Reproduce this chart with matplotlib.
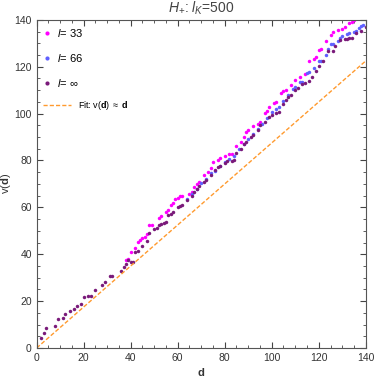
import matplotlib.pyplot as plt
import numpy as np
from matplotlib.ticker import MultipleLocator

plt.rcParams['font.family'] = ['Liberation Sans', 'DejaVu Sans']
plt.rcParams['mathtext.fontset'] = 'custom'
plt.rcParams['mathtext.rm'] = 'Liberation Sans'
plt.rcParams['mathtext.it'] = 'Liberation Sans:italic'
plt.rcParams['mathtext.bf'] = 'Liberation Sans:bold'

# l = infinity (purple)
d_inf = [2, 3, 4, 8, 9, 11, 12, 14, 16, 17, 19, 20, 22, 23, 25, 28, 29, 31, 32,
         36, 37, 38, 39, 40, 41, 42, 43, 45, 47, 48, 50, 51, 52, 53, 54, 55, 56,
         57, 58, 60, 61, 62, 64, 66, 67, 68, 69, 71, 72, 74, 76, 77, 78, 80, 81,
         83, 84, 85, 87, 88, 89, 91, 92, 94, 95, 97, 99, 100, 102, 103, 105, 106,
         107, 108, 110, 111, 113, 114, 116, 117, 119, 120, 122, 124, 126, 127,
         129, 131, 132, 133, 134, 136, 138, 140]
v_inf = [4.4, 6.4, 8.5, 9.3, 12.2, 12.7, 14.4, 15.8, 16.5, 18.1, 18.8, 21.9, 22.2,
         22.2, 24.8, 26.8, 28.3, 30.6, 30.6, 33.0, 34.4, 35.8, 37.6, 36.7, 36.7,
         41.1, 41.5, 43.7, 45.7, 49.0, 50.9, 51.2, 52.6, 53.0, 53.3, 53.6, 56.6,
         57.3, 58.0, 60.3, 60.6, 60.9, 63.0, 65.0, 66.5, 68.0, 69.0, 71.0, 71.7,
         74.0, 76.0, 77.1, 77.7, 79.1, 79.8, 79.9, 80.0, 83.0, 85.0, 87.0, 88.0,
         90.0, 91.0, 93.0, 95.2, 96.5, 98.7, 99.5, 100.4, 100.9, 104.0, 106.0,
         107.0, 108.0, 110.0, 111.0, 112.5, 113.0, 114.0, 115.5, 118.0, 120.2,
         122.4, 126.6, 126.6, 129.0, 131.6, 131.8, 131.9, 132.1, 132.3, 134.4,
         135.4, 137.0]

# l = 33 (magenta)
d_33 = [38, 39, 40, 42, 43, 44, 45, 46, 47, 48, 49, 52, 53, 55, 56, 57, 58, 59,
        60, 61, 62, 65, 66, 67, 68, 69, 71, 73, 74, 75, 77, 78, 80, 82, 83, 85,
        87, 88, 89, 90, 92, 94, 95, 97, 98, 99, 101, 102, 104, 105, 106, 108, 110,
        112, 114, 116, 118, 119, 120, 121, 123, 125, 126, 128, 130, 131, 133, 134,
        135]
v_33 = [37.6, 37.9, 41.1, 42.6, 45.4, 46.1, 46.8, 47.5, 48.5, 52.4, 52.6, 55.3,
        56.5, 58.0, 59.0, 61.0, 62.0, 63.6, 64.0, 64.9, 64.9, 65.8, 66.7, 68.5,
        70.0, 71.0, 73.8, 75.0, 77.0, 79.5, 80.0, 81.0, 82.0, 82.7, 82.7, 86.0,
        88.0, 90.0, 92.3, 93.0, 94.7, 95.6, 96.5, 100.2, 101.0, 103.0, 104.4,
        105.1, 108.7, 109.5, 110.1, 112.2, 114.4, 115.8, 117.0, 122.6, 123.5,
        124.1, 127.3, 127.6, 130.9, 133.4, 134.9, 135.5, 135.9, 136.9, 138.7,
        139.1, 140.0]

# l = 66 (blue)
d_66 = [64, 66, 68, 70, 72, 74, 76, 78, 80, 82, 84, 86, 88, 90, 92, 94, 96, 98,
        100, 102, 103, 105, 107, 109, 110, 112, 113, 115, 116, 118, 120, 121, 123,
        124, 125, 126, 128, 129, 130, 132, 133, 135, 136, 137, 138, 139]
v_66 = [63.5, 65.5, 68.0, 70.5, 72.0, 74.5, 75.5, 77.5, 79.5, 80.5, 82.0, 85.0,
        87.0, 89.0, 91.5, 93.3, 95.5, 98.0, 100.5, 102.0, 103.0, 105.5, 108.0,
        110.5, 111.5, 113.5, 113.7, 117.2, 117.9, 119.5, 122.4, 122.4, 125.0,
        127.5, 129.5, 129.5, 131.0, 132.3, 133.0, 134.0, 134.4, 134.8, 135.4,
        136.6, 137.2, 138.0]

fit_slope = 0.875

fig = plt.figure(figsize=(3.74, 3.82), dpi=100)
ax = fig.add_axes([0.098, 0.089, 0.88, 0.859])

p1, = ax.plot(d_33, v_33, 'o', color='#ff00ff', ms=2.5, mew=0, label='$l$= 33')
p2, = ax.plot(d_66, v_66, 'o', color='#6060ff', ms=2.5, mew=0, label='$l$= 66')
p3, = ax.plot(d_inf, v_inf, 'o', color='#7a1a7a', ms=2.5, mew=0, label=r'$l$= $\infty$')
xf = np.array([0, 140])
fl, = ax.plot(xf, fit_slope * xf, '--', color='#ff9a2e', lw=1.0, dashes=(3, 1.5),
              label=r'Fit: v($\mathbf{d}$) $\approx$ $\mathbf{d}$')

ax.set_xlim(0, 140)
ax.set_ylim(0, 140)
ax.xaxis.set_major_locator(MultipleLocator(20))
ax.yaxis.set_major_locator(MultipleLocator(20))
ax.xaxis.set_minor_locator(MultipleLocator(5))
ax.yaxis.set_minor_locator(MultipleLocator(5))
ax.tick_params(which='both', direction='in', top=True, right=True,
               labelsize=7.5, color='#444444', labelcolor='#333333')
ax.tick_params(which='major', length=4, width=0.8)
ax.tick_params(which='minor', length=2, width=0.6)
for s in ax.spines.values():
    s.set_color('#555555')
    s.set_linewidth(0.8)

ax.set_xlabel('d', fontsize=8, fontweight='bold', color='#333333', labelpad=4)
ax.set_ylabel(r'v($\mathbf{d}$)', fontsize=8, color='#333333', labelpad=1)
ax.set_title(r'$H_{+}$: $l_K$=500', fontsize=10, color='#444444', pad=5)

leg1 = ax.legend(handles=[p1, p2, p3], loc='upper left', frameon=False,
                 fontsize=8, labelspacing=1.15, handlelength=0.6,
                 handletextpad=0.6, markerscale=1.2, borderaxespad=0,
                 borderpad=0, bbox_to_anchor=(0.02, 0.978))
ax.add_artist(leg1)
leg2 = ax.legend(handles=[fl], loc='upper left', frameon=False, fontsize=6.5,
                 handlelength=3.2, handletextpad=0.7, borderaxespad=0,
                 borderpad=0, bbox_to_anchor=(0.018, 0.758))

fig.savefig('out.png', dpi=100)
